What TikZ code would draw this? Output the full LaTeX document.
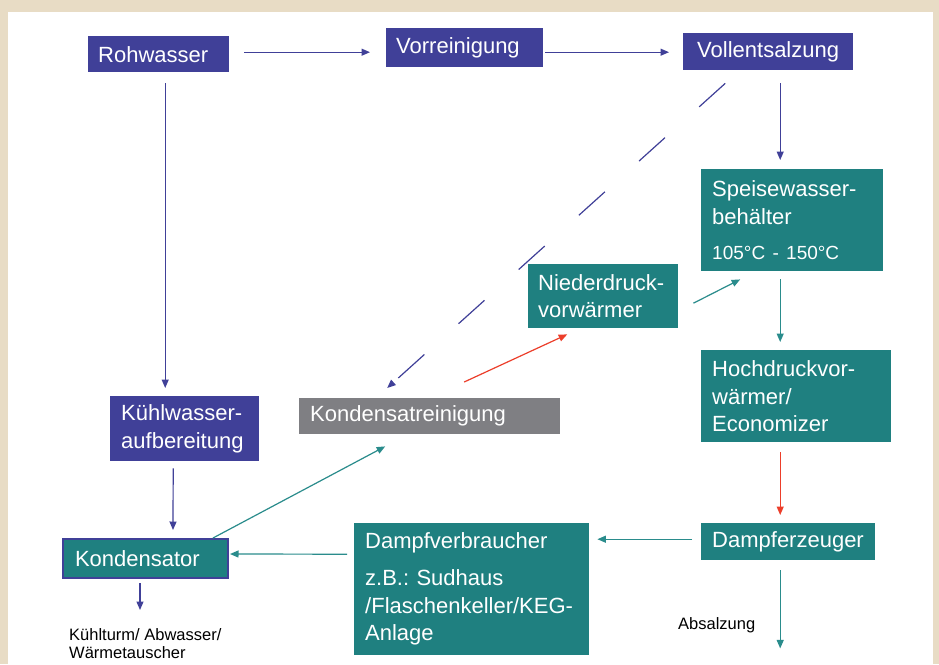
\documentclass[tikz,border=0pt]{standalone}
\usepackage{fontspec}
\setmainfont{Liberation Sans}
\usetikzlibrary{arrows.meta,calc}
\frenchspacing

\definecolor{wasserblau}{RGB}{64,64,152}
\definecolor{dampfgruen}{RGB}{31,128,128}
\definecolor{kondgrau}{RGB}{127,127,131}
\definecolor{pfeilgruen}{RGB}{42,140,140}
\definecolor{pfeilrot}{RGB}{236,62,42}
\definecolor{rahmen}{RGB}{232,220,197}

\begin{document}
\begin{tikzpicture}[x=1pt,y=-1pt,
    kasten/.style={anchor=north west,inner xsep=10pt,inner ysep=0pt,text=white,
      font=\fontsize{22}{27.5}\selectfont,align=left},
    blaukasten/.style={kasten,fill=wasserblau},
    gruenkasten/.style={kasten,fill=dampfgruen},
    graukasten/.style={kasten,fill=kondgrau},
    fluss/.style={line width=1.2pt,-{Triangle[length=8.5pt,width=7pt]}},
    blaufluss/.style={fluss,draw=wasserblau},
    gruenfluss/.style={fluss,draw=pfeilgruen},
    rotfluss/.style={fluss,draw=pfeilrot},
    notiz/.style={inner sep=0pt,align=left,font=\fontsize{16.5}{18}\selectfont}]

    % Rahmen
    \useasboundingbox (0,0) rectangle (939,664);
    \fill[rahmen] (0,0) rectangle (939,664);
    \fill[white] (8,12) rectangle (933,664);

    % Wasseraufbereitung
    \node[blaukasten,text width=121pt,minimum height=36pt] (rohwasser) at (88,36) {Rohwasser};
    \node[blaukasten,text width=137pt,minimum height=39pt] (vorreinigung) at (386,28) {Vorreinigung};
    \node[blaukasten,inner xsep=14pt,text width=142pt,minimum height=37pt] (vollentsalzung) at (683,33) {Vollentsalzung};
    \node[blaukasten,inner xsep=11pt,text width=127pt,minimum height=65pt] (kuehl) at (110,396) {Kühlwasser-\\aufbereitung};

    % Dampfkreislauf
    \node[gruenkasten,inner xsep=11pt,text width=160pt,minimum height=102pt] (speise) at (701,169)
        {Speisewasser-\\behälter\\[7.5pt]{\fontsize{19}{23}\selectfont 105°C - 150°C}};
    \node[gruenkasten,text width=130pt,minimum height=64pt] (nieder) at (528,264) {Niederdruck-\\vorwärmer};
    \node[gruenkasten,inner xsep=11pt,text width=168pt,minimum height=92pt] (hoch) at (701,350)
        {Hochdruckvor-\\wärmer/\\Economizer};
    \node[graukasten,inner xsep=11pt,text width=239pt,minimum height=36pt] (kreinig) at (299,398) {Kondensatreinigung};
    \node[gruenkasten,draw=wasserblau,line width=2pt,inner xsep=12pt,text width=141pt,minimum height=39pt] (kondens) at (62,538) {Kondensator};
    \node[gruenkasten,inner xsep=11pt,text width=213pt,minimum height=132pt] (dampfv) at (354,523)
        {Dampfverbraucher\\[9.5pt]z.B.: Sudhaus\\/Flaschenkeller/KEG-\\Anlage};
    \node[gruenkasten,inner xsep=11pt,text width=152pt,minimum height=37pt] (dampfe) at (701,523) {Dampferzeuger};

    \node[notiz,anchor=north west] (kuehlturm) at (69,628) {Kühlturm/ Abwasser/\\Wärmetauscher};
    \node[notiz,anchor=west] (absalzung) at (678,625) {Absalzung};

    % Pfeile
    \draw[blaufluss] ($(rohwasser.east)+(15,-2)$) -- ($(vorreinigung.west)+(-16,4.5)$);
    \draw[blaufluss] ($(vorreinigung.east)+(2,4.5)$) -- ($(vollentsalzung.west)+(-14,0.5)$);
    \draw[blaufluss] ($(vollentsalzung.south)+(12,13)$) -- ($(speise.north)+(-12,-9)$);
    \draw[blaufluss,dash pattern=on 35pt off 46pt] ($(vollentsalzung.south)+(-43,13)$) -- ($(kreinig.north)+(-42.5,-10)$);
    \draw[blaufluss] ($(rohwasser.south)+(6.5,11)$) -- ($(kuehl.north)+(-19.5,-8)$);
    \draw[blaufluss] ($(kuehl.south)+(-11.5,7)$) -- ($(kondens.north)+(27.5,-8)$);
    \draw[blaufluss] ($(kondens.south)+(-5.5,4)$) -- ++(0,27);
    \draw[gruenfluss] ($(kondens.north)+(67.5,0)$) -- ($(kreinig.south)+(-44.5,12)$);
    \draw[rotfluss] ($(kreinig.north)+(34.5,-16)$) -- ($(nieder.south)+(-36,6)$);
    \draw[gruenfluss] ($(nieder.east)+(15,7)$) -- ($(speise.south)+(-52,8)$);
    \draw[gruenfluss] ($(speise.south)+(-12,8)$) -- ($(hoch.north)+(-16,-8)$);
    \draw[rotfluss] ($(hoch.south)+(-16,10)$) -- ($(dampfe.north)+(-8,-8)$);
    \draw[gruenfluss] ($(dampfe.west)+(-9,-2.5)$) -- ($(dampfv.east)+(8,-50)$);
    \draw[gruenfluss] ($(dampfv.west)+(-7,-35)$) -- ($(kondens.east)+(1,-4.5)$);
    \draw[gruenfluss] ($(dampfe.south)+(-8,10)$) -- ++(0,78);
\end{tikzpicture}
\end{document}
